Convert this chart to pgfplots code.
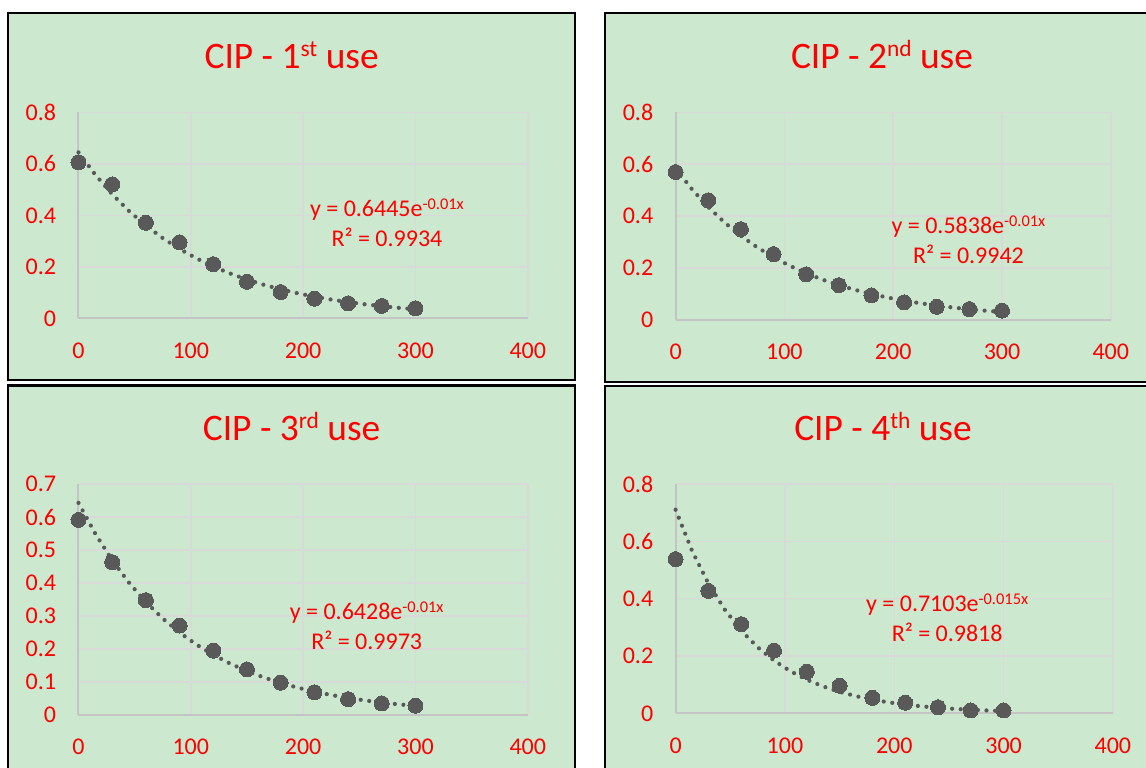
\documentclass[border=0pt]{standalone}
\usepackage{pgfplots}
\pgfplotsset{compat=1.18}
\usepackage{fontspec}
\setmainfont{Carlito}
\definecolor{bg}{HTML}{CCE8CF}
\definecolor{gridc}{HTML}{D9D9D9}
\definecolor{axc}{HTML}{C4C4C4}
\definecolor{mk}{HTML}{595959}
\definecolor{tred}{HTML}{FF0000}
\pgfplotsset{
  panel/.style={
    scale only axis, anchor=south west,
    axis lines=left, axis line style={axc, line width=1pt, -},
    grid=major, grid style={gridc, line width=0.75pt},
    major tick length=0pt,
    xmin=0, xmax=400, xtick={0,100,200,300,400},
    ticklabel style={font=\fontsize{12}{14}\selectfont, text=tred, inner sep=2pt},
    /pgf/number format/assume math mode=true,
    yticklabel style={xshift=-9pt},
    xticklabel style={yshift=-10pt},
    clip=false,
  },
  trend/.style={no markers, color=mk, line width=2.1pt, line cap=round, dash pattern=on 0pt off 4.3pt},
  pts/.style={only marks, color=mk, mark=*, mark size=3.75pt, mark options={draw=mk, fill=mk, line width=0pt}},
}
\tikzset{
  eq/.style={anchor=base, text=tred, font=\fontsize{12}{14}\selectfont},
  ttl/.style={anchor=base, text=tred, font=\fontsize{18.7}{22}\selectfont},
}
\newcommand\tsup[1]{\raisebox{5.9pt}{\fontsize{11.7}{13}\selectfont #1}}
\newcommand\esup[1]{\raisebox{3.6pt}{\fontsize{8.2}{10}\selectfont #1}}
\begin{document}
\begin{tikzpicture}
\useasboundingbox (0pt,0pt) rectangle (573pt,383.5pt);
\clip (0pt,0pt) rectangle (573pt,383.5pt);
\fill[white] (0pt,0pt) rectangle (573pt,383.5pt);
\draw[black, line width=1.25pt, fill=bg] (4pt,193.5pt) rectangle (287.5pt,377pt);
\draw[black, line width=1.25pt, fill=bg] (302.5pt,192.5pt) rectangle (590pt,377pt);
\draw[black, line width=1.25pt, fill=bg] (4pt,-10pt) rectangle (287.5pt,190.75pt);
\draw[black, line width=1.25pt, fill=bg] (302.5pt,-10pt) rectangle (590pt,190.5pt);

\node[ttl] at (145.8pt,349.35pt) {CIP - 1\tsup{st} use};
\node[ttl] at (441pt,349.35pt) {CIP - 2\tsup{nd} use};
\node[ttl] at (145.8pt,163.5pt) {CIP - 3\tsup{rd} use};
\node[ttl] at (441.5pt,163.5pt) {CIP - 4\tsup{th} use};

% Panel 1
\begin{axis}[panel, at={(39.25pt,224.35pt)}, width=224.65pt, height=103pt,
  ymin=0, ymax=0.8, ytick={0,0.2,0.4,0.6,0.8}]
\addplot[trend] coordinates {(0,0.6445) (15,0.5572) (30,0.4818) (45,0.4166) (60,0.3602) (75,0.3114) (90,0.2692) (105,0.2328) (120,0.2013) (135,0.1740) (150,0.1505) (165,0.1301) (180,0.1125) (195,0.0973) (210,0.0841) (225,0.0727) (240,0.0629) (255,0.0544) (270,0.0470) (285,0.0406) (300,0.0351)};
\addplot[pts] coordinates {(0,0.606) (30,0.520) (60,0.371) (90,0.295) (120,0.210) (150,0.142) (180,0.102) (210,0.076) (240,0.058) (270,0.048) (300,0.039)};
\node[eq] at (axis cs:274.6,0.395) {y = 0.6445e\esup{-0.01x}};
\node[eq] at (axis cs:274.6,0.278) {R² = 0.9934};
\end{axis}

% Panel 2
\begin{axis}[panel, at={(337.8pt,223.5pt)}, width=217.6pt, height=103.85pt,
  ymin=0, ymax=0.8, ytick={0,0.2,0.4,0.6,0.8}]
\addplot[trend] coordinates {(0,0.5838) (15,0.5040) (30,0.4351) (45,0.3756) (60,0.3243) (75,0.2800) (90,0.2417) (105,0.2087) (120,0.1801) (135,0.1555) (150,0.1343) (165,0.1159) (180,0.1001) (195,0.0864) (210,0.0746) (225,0.0644) (240,0.0556) (255,0.0480) (270,0.0414) (285,0.0358) (300,0.0309)};
\addplot[pts] coordinates {(0,0.570) (30,0.461) (60,0.350) (90,0.254) (120,0.176) (150,0.134) (180,0.095) (210,0.068) (240,0.051) (270,0.042) (300,0.036)};
\node[eq] at (axis cs:269.2,0.334) {y = 0.5838e\esup{-0.01x}};
\node[eq] at (axis cs:269.2,0.218) {R² = 0.9942};
\end{axis}

% Panel 3
\begin{axis}[panel, at={(39.25pt,26pt)}, width=224.65pt, height=115.5pt,
  ymin=0, ymax=0.7, ytick={0,0.1,0.2,0.3,0.4,0.5,0.6,0.7}]
\addplot[trend] coordinates {(0,0.6428) (15,0.5491) (30,0.4691) (45,0.4008) (60,0.3424) (75,0.2925) (90,0.2499) (105,0.2135) (120,0.1824) (135,0.1558) (150,0.1331) (165,0.1137) (180,0.0971) (195,0.0830) (210,0.0709) (225,0.0606) (240,0.0517) (255,0.0442) (270,0.0378) (285,0.0323) (300,0.0276)};
\addplot[pts] coordinates {(0,0.591) (30,0.463) (60,0.348) (90,0.271) (120,0.195) (150,0.138) (180,0.098) (210,0.069) (240,0.048) (270,0.035) (300,0.028)};
\node[eq] at (axis cs:256.6,0.288) {y = 0.6428e\esup{-0.01x}};
\node[eq] at (axis cs:256.6,0.199) {R² = 0.9973};
\end{axis}

% Panel 4
\begin{axis}[panel, at={(337.8pt,26.85pt)}, width=218.65pt, height=114.65pt,
  ymin=0, ymax=0.8, ytick={0,0.2,0.4,0.6,0.8}]
\addplot[trend] coordinates {(0,0.7103) (15,0.5672) (30,0.4529) (45,0.3616) (60,0.2888) (75,0.2306) (90,0.1841) (105,0.1470) (120,0.1174) (135,0.0937) (150,0.0749) (165,0.0598) (180,0.0477) (195,0.0381) (210,0.0304) (225,0.0243) (240,0.0194) (255,0.0155) (270,0.0124) (285,0.0099) (300,0.0079)};
\addplot[pts] coordinates {(0,0.538) (30,0.427) (60,0.311) (90,0.219) (120,0.145) (150,0.096) (180,0.054) (210,0.037) (240,0.021) (270,0.010) (300,0.010)};
\node[eq] at (axis cs:248.4,0.354) {y = 0.7103e\esup{-0.015x}};
\node[eq] at (axis cs:248.4,0.250) {R² = 0.9818};
\end{axis}
\end{tikzpicture}
\end{document}
